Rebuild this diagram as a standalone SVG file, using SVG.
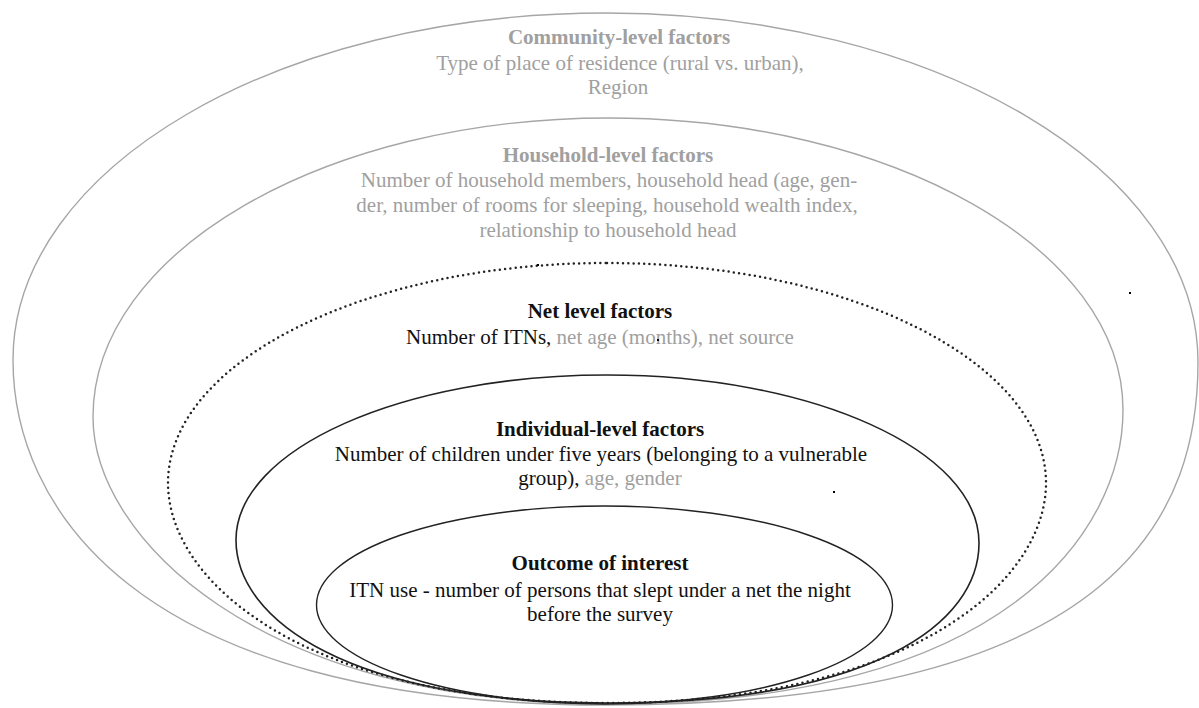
<svg xmlns="http://www.w3.org/2000/svg" width="1199" height="708" viewBox="0 0 1199 708">
<style>
.ring{fill:none}
.gray{stroke:#a6a6a6;stroke-width:1.4}
.dot{stroke:#222;stroke-width:2.5;stroke-dasharray:0 5.3;stroke-linecap:round}
.blk{stroke:#222;stroke-width:1.6}
.g{fill:#a0a0a0}
.k{fill:#111}
</style>
<rect width="1199" height="708" fill="#fff"/>
<g font-family="Liberation Serif" font-size="21" text-anchor="middle">
<g id="community">
<path class="ring gray" d="M606,13 C933,13 1198,169 1198,362 C1198,502 1134,705 606,705 C126,705 13,500 13,360 C13,168 278,13 606,13 Z"/>
<text font-family="Liberation Serif" font-weight="bold" class="g" x="619" y="44">Community-level factors</text>
<text font-family="Liberation Serif" class="g" x="620" y="70">Type of place of residence (rural vs. urban),</text>
<text font-family="Liberation Serif" class="g" x="618" y="94">Region</text>
</g>
<g id="household">
<path class="ring gray" d="M608,118 C892,118 1123,249 1123,410 C1123,530 1008,704 608,704 C258,704 93,537 93,417 C93,252 324,118 608,118 Z"/>
<text font-family="Liberation Serif" font-weight="bold" class="g" x="608" y="162">Household-level factors</text>
<text font-family="Liberation Serif" class="g" x="609" y="187">Number of household members, household head (age, gen-</text>
<text font-family="Liberation Serif" class="g" x="607" y="212">der, number of rooms for sleeping, household wealth index,</text>
<text font-family="Liberation Serif" class="g" x="608" y="237">relationship to household head</text>
</g>
<g id="net">
<path class="ring dot" d="M607,263 C849,263 1046,362 1046,483 C1046,583 909,703 607,703 C307,703 168,583 168,483 C168,362 365,263 607,263 Z"/>
<text font-family="Liberation Serif" font-weight="bold" class="k" x="600" y="318">Net level factors</text>
<text font-family="Liberation Serif" x="600" y="344"><tspan class="k">Number of ITNs,</tspan><tspan class="g"> net age (months), net source</tspan></text>
</g>
<g id="individual">
<path class="ring blk" d="M607,375 C812,375 979,450 979,543 C979,623 874,703 607,703 C350,703 236,620 236,540 C236,449 402,375 607,375 Z"/>
<text font-family="Liberation Serif" font-weight="bold" class="k" x="600" y="436">Individual-level factors</text>
<text font-family="Liberation Serif" class="k" x="601" y="461">Number of children under five years (belonging to a vulnerable</text>
<text font-family="Liberation Serif" x="600" y="485"><tspan class="k">group),</tspan><tspan class="g"> age, gender</tspan></text>
</g>
<g id="outcome">
<ellipse class="ring" stroke="#222" stroke-width="1.4" cx="604.5" cy="605" rx="288" ry="99"/>
<text font-family="Liberation Serif" font-weight="bold" class="k" x="600" y="570">Outcome of interest</text>
<text font-family="Liberation Serif" class="k" x="600" y="597">ITN use - number of persons that slept under a net the night</text>
<text font-family="Liberation Serif" class="k" x="600" y="621">before the survey</text>
</g>
</g>
<g id="specks" fill="#000">
<rect x="1129" y="292" width="2" height="2"/>
<rect x="537" y="264" width="2" height="2"/>
<rect x="833" y="491" width="2" height="2"/>
<rect x="657" y="339" width="2" height="2"/>
</g>
</svg>
